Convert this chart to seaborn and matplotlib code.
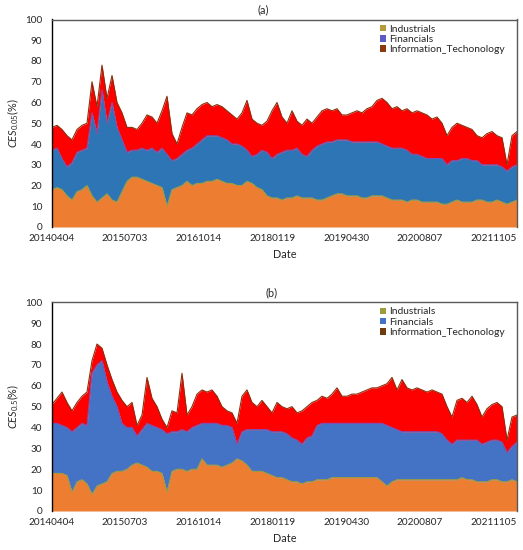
import numpy as np
import matplotlib
matplotlib.use("Agg")
import matplotlib.pyplot as plt
import seaborn as sns
from matplotlib.patches import Patch

sns.set_theme(style="white")
plt.rcParams['font.family'] = ['Lato', 'DejaVu Sans']
plt.rcParams['mathtext.fontset'] = 'custom'
plt.rcParams['mathtext.rm'] = 'Lato'
plt.rcParams['mathtext.it'] = 'Lato:italic'

# ---------------- data ----------------
tick_labels = ["20140404", "20150703", "20161014", "20180119",
               "20190430", "20200807", "20211105"]
tick_pos = [0, 14.6, 29.4, 44.2, 59.0, 73.6, 88.4]
series_names = ["Industrials", "Financials", "Information_Techonology"]

# panel (a): CES 0.05  -- top of each stacked layer
ind_a = [18, 19, 18, 15, 13, 17, 18, 20, 15, 12, 14, 16, 13, 12, 17, 22, 24, 24, 23, 22,
         21, 20, 19, 10, 18, 19, 20, 22, 20, 21, 21, 22, 22, 23, 22, 21, 21, 20, 20, 22,
         21, 19, 18, 15, 14, 14, 13, 14, 14, 15, 14, 14, 14, 13, 13, 14, 15, 16, 16, 15,
         15, 15, 14, 14, 15, 15, 15, 14, 13, 13, 13, 12, 13, 13, 12, 12, 12, 12, 11, 11,
         12, 13, 12, 12, 12, 13, 13, 12, 12, 13, 12, 11, 12, 13]
fin_top_a = [37, 38, 33, 29, 31, 36, 37, 38, 55, 45, 66, 50, 60, 48, 42, 36, 37, 37, 38, 37,
             38, 36, 38, 35, 32, 33, 35, 37, 38, 40, 42, 44, 44, 44, 43, 42, 40, 40, 39, 37,
             34, 35, 37, 36, 33, 35, 36, 37, 37, 38, 35, 34, 37, 39, 40, 41, 41, 42, 42, 42,
             41, 41, 41, 41, 41, 41, 40, 39, 38, 38, 38, 37, 35, 35, 34, 33, 33, 33, 33, 30,
             32, 32, 33, 33, 32, 32, 30, 30, 30, 30, 29, 27, 29, 30]
it_top_a = [48, 49, 47, 44, 42, 47, 49, 50, 70, 58, 78, 62, 73, 60, 55, 48, 48, 47, 50, 54,
            53, 50, 56, 63, 45, 40, 48, 55, 54, 57, 59, 60, 58, 59, 58, 56, 54, 52, 55, 61,
            52, 50, 49, 51, 56, 60, 53, 50, 56, 51, 49, 52, 50, 53, 56, 57, 56, 57, 54, 54,
            55, 56, 55, 57, 58, 61, 62, 60, 57, 58, 56, 57, 55, 56, 55, 54, 52, 53, 50, 44,
            48, 50, 49, 48, 47, 44, 43, 45, 46, 44, 43, 30, 44, 46]

# panel (b): CES 0.5 -- top of each stacked layer
ind_b = [18, 18, 18, 17, 9, 14, 15, 13, 8, 12, 13, 14, 18, 19, 19, 20, 22, 23, 22, 21,
         19, 19, 18, 9, 19, 20, 20, 19, 20, 20, 25, 22, 22, 22, 21, 22, 23, 25, 24, 22,
         19, 19, 19, 18, 17, 16, 16, 15, 14, 14, 13, 14, 14, 15, 15, 15, 16, 16, 16, 16,
         16, 16, 16, 16, 16, 16, 14, 12, 14, 15, 15, 15, 15, 15, 15, 15, 15, 15, 15, 15,
         15, 15, 16, 15, 15, 14, 14, 14, 15, 15, 14, 14, 15, 14]
fin_top_b = [42, 42, 41, 40, 38, 40, 42, 41, 66, 70, 72, 62, 55, 50, 42, 40, 40, 36, 39, 42,
             41, 40, 39, 37, 38, 38, 39, 38, 40, 41, 42, 42, 42, 42, 41, 41, 40, 32, 38, 39,
             39, 39, 39, 39, 38, 38, 38, 37, 35, 34, 32, 35, 36, 41, 42, 42, 42, 42, 42, 42,
             42, 42, 42, 42, 42, 42, 42, 41, 40, 39, 38, 38, 38, 38, 38, 38, 38, 38, 37, 34,
             32, 34, 34, 34, 34, 34, 32, 33, 34, 34, 33, 28, 31, 33]
it_top_b = [51, 54, 57, 52, 48, 52, 55, 57, 72, 80, 78, 70, 63, 57, 53, 50, 52, 41, 46, 64,
            54, 50, 44, 40, 48, 47, 66, 46, 50, 56, 58, 57, 58, 55, 50, 48, 47, 42, 55, 58,
            52, 50, 53, 50, 47, 52, 50, 49, 50, 47, 48, 50, 52, 53, 55, 54, 56, 59, 55, 55,
            56, 56, 57, 58, 59, 59, 60, 61, 64, 58, 63, 59, 58, 59, 58, 57, 58, 57, 56, 50,
            45, 53, 54, 52, 55, 51, 45, 49, 51, 52, 50, 34, 45, 46]

# ---------------- styling ----------------
fill_colors = ["#ED7D31", None, "#FF0000"]
blue_fill = {"a": "#2E75B6", "b": "#4472C4"}
edge_colors = ["#A59A3A", "#7E4FB0", "#8B2E0B"]
legend_colors = {"a": ["#B59B3E", "#5C5CC8", "#8B3A10"],
                 "b": ["#9C9C3A", "#4472C4", "#6E3B0E"]}
txt = "#262626"

W, H = 523, 550
fig = plt.figure(figsize=(W / 100, H / 100), dpi=100)

panels = [
    ("a", ind_a, fin_top_a, it_top_a, r"$CES_{0.05}$(%)", (19.5, 227), 263),
    ("b", ind_b, fin_top_b, it_top_b, r"$CES_{0.5}$(%)", (302.3, 511), 272),
]

for key, ind, fin_top, it_top, ylab, (ytop, ybot), title_x in panels:
    ind = np.array(ind, float)
    fin_top = np.array(fin_top, float)
    it_top = np.array(it_top, float)
    fin = fin_top - ind
    it = it_top - fin_top
    x = np.arange(len(ind))

    ax = fig.add_axes([52 / W, 1 - ybot / H, (517 - 52) / W, (ybot - ytop) / H])
    cols = [fill_colors[0], blue_fill[key], fill_colors[2]]
    ax.stackplot(x, ind, fin, it, colors=cols, linewidth=0)
    for yy, ec in zip([ind, fin_top, it_top], edge_colors):
        sns.lineplot(x=x, y=yy, ax=ax, color=ec, linewidth=0.8, legend=False)

    ax.set_xlim(0, len(ind) - 1)
    ax.set_ylim(0, 100)
    ax.set_yticks(range(0, 101, 10))
    ax.set_xticks(tick_pos)
    ax.set_xticklabels(tick_labels)
    ax.tick_params(axis="both", length=0, labelsize=7.2, colors=txt)
    ax.tick_params(axis="y", pad=7)
    ax.tick_params(axis="x", pad=5)
    ax.set_xlabel("Date", fontsize=7.8, color=txt, labelpad=4)
    ax.set_ylabel(ylab, fontsize=7.8, color=txt, labelpad=3)
    for s in ["top", "right"]:
        ax.spines[s].set_color("#595959")
        ax.spines[s].set_linewidth(1.0)
    ax.spines["left"].set_color("#000000")
    ax.spines["left"].set_linewidth(1.0)
    ax.spines["bottom"].set_visible(False)
    ax.grid(False)

    handles = [Patch(facecolor=c, edgecolor="none") for c in legend_colors[key]]
    ax.legend(handles, series_names, loc="upper left", bbox_to_anchor=(0.7, 0.985),
              frameon=False, fontsize=7.4, handlelength=0.6, handleheight=0.6,
              handletextpad=0.3, labelspacing=0.12, borderaxespad=0.0,
              borderpad=0.2, labelcolor=txt)

    fig.text(title_x / W, 1 - (ytop - 10) / H, f"({key})", ha="center", va="center",
             fontsize=7.8, color=txt)

fig.savefig("out.png", dpi=100)
